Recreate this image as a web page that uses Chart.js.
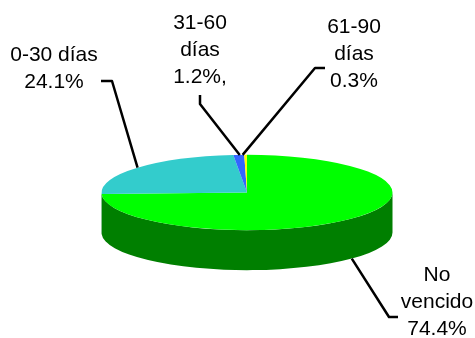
<!DOCTYPE html>
<html>
<head>
<meta charset="utf-8">
<style>
  html, body { margin: 0; padding: 0; background: #fff; }
  canvas { display: block; }
</style>
<script src="https://cdn.jsdelivr.net/npm/chart.js@4/dist/chart.umd.min.js"></script>
</head>
<body>
<canvas id="miGrafico" width="475" height="338"></canvas>
<script>
// Antigüedad de saldos
var categorias = ["No vencido", "0-30 días", "31-60 días", "61-90 días"];
var porcentajes = [74.4, 24.1, 1.2, 0.3];
var colores = ["#00ff00", "#33cccc", "#3366ff", "#ffff00"];
var coloresLado = ["#007f00", "#1a6666", "#1a3380", "#808000"];

// Texto de cada etiqueta, línea por línea
var textos = [
    ["No", "vencido", "74.4%"],
    ["0-30 días", "24.1%"],
    ["31-60", "días", "1.2%,"],
    ["61-90", "días", "0.3%"]
];
var centrosTexto = [[437, 275], [54, 55], [200, 23], [354, 27]];
var codos = [
    [[389, 317], [398, 317]],
    [[112, 81], [101, 81]],
    [[200, 104], [200, 95]],
    [[315, 68], [325, 68]]
];
// Las dos guías de arriba casi se tocan, se separan un poco en x
var ajusteGuia = [0, 0, 1, -3];

var aplastado = 37.5 / 145;
var grosor = 40;
var altoLinea = 27;

// Pastel en perspectiva: cara lateral, elipse y líneas guía
var pastel3d = {
    id: "pastel3d",
    beforeDatasetsDraw: function(chart) {
        var ctx = chart.ctx;
        chart.getDatasetMeta(0).data.forEach(function(arco, i) {
            var ini = Math.max(arco.startAngle, 0);
            var fin = Math.min(arco.endAngle, Math.PI);
            if (fin <= ini) return;
            var rx = arco.outerRadius, ry = rx * aplastado;
            ctx.beginPath();
            ctx.ellipse(arco.x, arco.y, rx, ry, 0, ini, fin);
            ctx.ellipse(arco.x, arco.y + grosor, rx, ry, 0, fin, ini, true);
            ctx.closePath();
            ctx.fillStyle = coloresLado[i];
            ctx.fill();
        });
        var centro = chart.getDatasetMeta(0).data[0];
        ctx.save();
        ctx.translate(centro.x, centro.y);
        ctx.scale(1, aplastado);
        ctx.translate(-centro.x, -centro.y);
    },
    afterDatasetsDraw: function(chart) {
        var ctx = chart.ctx;
        ctx.restore();
        chart.getDatasetMeta(0).data.forEach(function(arco, i) {
            var medio = (arco.startAngle + arco.endAngle) / 2;
            var rx = arco.outerRadius;
            var x = arco.x + rx * Math.cos(medio) + ajusteGuia[i];
            var y = arco.y + rx * aplastado * Math.sin(medio);
            if (Math.sin(medio) > 0) y += grosor;

            ctx.beginPath();
            ctx.moveTo(x, y);
            codos[i].forEach(function(p) { ctx.lineTo(p[0], p[1]); });
            ctx.strokeStyle = "#000";
            ctx.lineWidth = 2.5;
            ctx.lineJoin = "round";
            ctx.stroke();

            ctx.fillStyle = "#000";
            ctx.font = "21px 'Liberation Sans', Arial, sans-serif";
            ctx.textAlign = "center";
            ctx.textBaseline = "middle";
            textos[i].forEach(function(linea, n) {
                ctx.fillText(linea, centrosTexto[i][0], centrosTexto[i][1] + n * altoLinea);
            });
        });
    }
};

new Chart(document.getElementById("miGrafico").getContext("2d"), {
    type: "pie",
    data: {
        labels: categorias,
        datasets: [{
            data: porcentajes,
            backgroundColor: colores,
            borderWidth: 0,
            clip: false
        }]
    },
    options: {
        responsive: false,
        animation: false,
        events: [],
        layout: { padding: { left: 19, top: 47 } },
        plugins: {
            legend: { display: false },
            tooltip: { enabled: false }
        }
    },
    plugins: [pastel3d]
});
</script>
</body>
</html>
